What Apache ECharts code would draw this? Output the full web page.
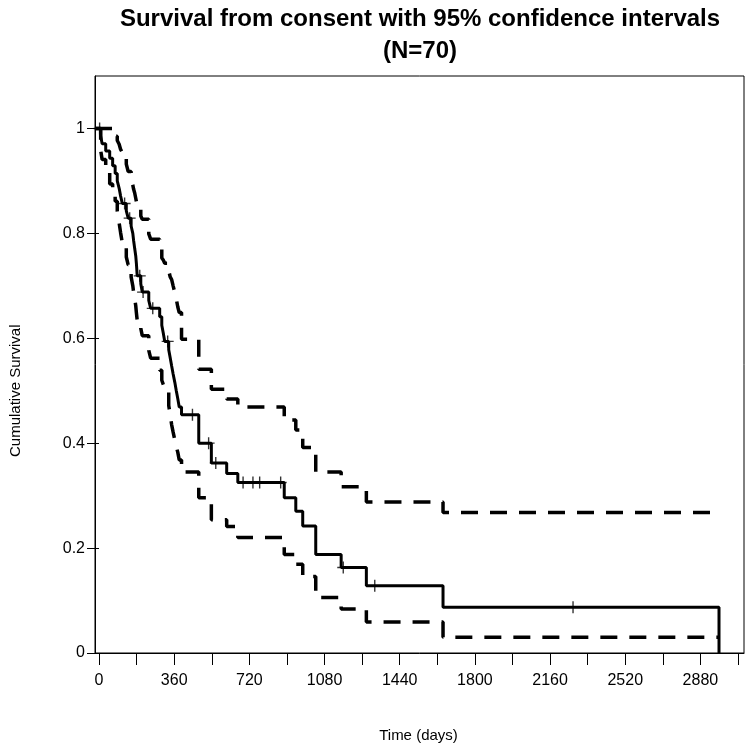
<!DOCTYPE html>
<html>
<head>
<meta charset="utf-8">
<title>Survival from consent</title>
<script src="https://cdn.jsdelivr.net/npm/echarts@6/dist/echarts.min.js"></script>
<style>
    html, body { margin: 0; padding: 0; background: #fff; }
    #chart { width: 749px; height: 753px; }
</style>
</head>
<body>
<div id="chart"></div>
<script>
// days at which the Kaplan-Meier estimate steps down (first entry is the start)
let stepDays = [0, 27, 34, 51, 70, 84, 96, 106, 115, 122, 130, 149, 158, 172, 180, 184, 189, 194, 197, 201,
    218, 225, 256, 265, 308, 318, 325, 332, 351, 358, 365, 372, 380, 387, 394, 401, 412, 494, 554, 627,
    680, 901, 956, 989, 1051, 1172, 1292, 1657, 2971];
let survival = [1, 0.986, 0.971, 0.957, 0.943, 0.929, 0.914, 0.900, 0.886, 0.871, 0.857, 0.843, 0.829, 0.814, 0.800,
    0.786, 0.771, 0.757, 0.743, 0.719, 0.704, 0.688, 0.672, 0.657, 0.641, 0.625, 0.610, 0.594, 0.578, 0.563,
    0.547, 0.532, 0.516, 0.500, 0.485, 0.469, 0.454, 0.400, 0.362, 0.342, 0.325, 0.296, 0.270, 0.242, 0.188,
    0.163, 0.128, 0.087, 0];
let upperCI = [1, 1, 1, 1, 1, 0.990, 0.985, 0.977, 0.970, 0.960, 0.954, 0.932, 0.918, 0.903, 0.892,
    0.884, 0.877, 0.867, 0.861, 0.848, 0.833, 0.827, 0.799, 0.789, 0.776, 0.753, 0.749, 0.743, 0.729, 0.717,
    0.712, 0.700, 0.687, 0.675, 0.660, 0.649, 0.598, 0.541, 0.503, 0.484, 0.469, 0.444, 0.425, 0.392, 0.345,
    0.317, 0.288, 0.268, 0.268];
let lowerCI = [1, 0.958, 0.941, 0.918, 0.894, 0.877, 0.861, 0.842, 0.820, 0.801, 0.782, 0.755, 0.740, 0.717, 0.700,
    0.687, 0.676, 0.662, 0.649, 0.634, 0.619, 0.605, 0.577, 0.562, 0.539, 0.520, 0.512, 0.505, 0.472, 0.454,
    0.435, 0.421, 0.406, 0.393, 0.383, 0.368, 0.345, 0.296, 0.254, 0.241, 0.220, 0.188, 0.169, 0.146, 0.106,
    0.084, 0.059, 0.030, 0.030];
// censored observations (days)
let censorDays = [22, 141, 165, 213, 229, 275, 346, 464, 541, 575, 705, 752, 784, 884, 1182, 1332, 2276];

let xTickLabels = [0, 360, 720, 1080, 1440, 1800, 2160, 2520, 2880];
let yTickLabels = ['0', '0.2', '0.4', '0.6', '0.8', '1'];

let fontFamily = 'Liberation Sans, Arial, sans-serif';

function pairs(days, values) {
    return days.map(function (d, i) {
        return [d, values[i]];
    });
}

// survival value in effect on a given day
function survivalAt(day) {
    let v = survival[0];
    for (let i = 0; i < stepDays.length; i++) {
        if (stepDays[i] <= day) {
            v = survival[i];
        }
    }
    return v;
}

let chart = echarts.init(document.getElementById('chart'));

let dashed = {color: '#000', width: 3.5, type: [17, 12]};

let option = {
    backgroundColor: '#fff',
    animation: false,
    title: {
        text: 'Survival from consent with 95% confidence intervals\n(N=70)',
        left: 415,
        top: -2,
        textAlign: 'center',
        textStyle: {
            fontFamily: fontFamily,
            fontSize: 24,
            fontWeight: 'bold',
            lineHeight: 32,
            color: '#000'
        }
    },
    grid: [
        {left: 95, right: 5, top: 76, bottom: 100, show: true, borderColor: '#000', borderWidth: 1},
        {left: 95, width: 643, top: 128.5, bottom: 100}
    ],
    xAxis: [
        {
            gridIndex: 0, type: 'value', min: 0, max: 3090,
            axisLine: {show: true, lineStyle: {color: '#000', width: 1}},
            axisTick: {show: false}, axisLabel: {show: false}, splitLine: {show: false}
        },
        {
            gridIndex: 1, type: 'value', min: 0, max: 3060, interval: 180,
            axisLine: {show: false},
            axisTick: {show: true, length: 12, lineStyle: {color: '#000', width: 1}},
            axisLabel: {
                margin: 20,
                color: '#000',
                fontFamily: fontFamily,
                fontSize: 16,
                formatter: function (v) {
                    return xTickLabels.indexOf(v) >= 0 ? String(v) : '';
                }
            },
            splitLine: {show: false},
            name: 'Time (days)',
            nameLocation: 'middle',
            nameGap: 75,
            nameTextStyle: {color: '#000', fontFamily: fontFamily, fontSize: 15}
        }
    ],
    yAxis: [
        {
            gridIndex: 0, type: 'value', min: 0, max: 1.1,
            axisLine: {show: true, lineStyle: {color: '#000', width: 1}},
            axisTick: {show: false}, axisLabel: {show: false}, splitLine: {show: false}
        },
        {
            gridIndex: 1, type: 'value', min: 0, max: 1, interval: 0.2,
            axisLine: {show: false},
            axisTick: {show: true, length: 12, lineStyle: {color: '#000', width: 1}},
            axisLabel: {
                margin: 14,
                color: '#000',
                fontFamily: fontFamily,
                fontSize: 16,
                formatter: function (v) {
                    return yTickLabels[Math.round(v * 5)];
                }
            },
            splitLine: {show: false},
            name: 'Cumulative Survival',
            nameLocation: 'middle',
            nameGap: 76,
            nameTextStyle: {color: '#000', fontFamily: fontFamily, fontSize: 15}
        }
    ],
    series: [
        {
            name: 'Upper 95% CI', type: 'line', step: 'end', xAxisIndex: 0, yAxisIndex: 0,
            showSymbol: false, lineStyle: dashed,
            data: pairs(stepDays, upperCI)
        },
        {
            name: 'Lower 95% CI', type: 'line', step: 'end', xAxisIndex: 0, yAxisIndex: 0,
            showSymbol: false, lineStyle: dashed,
            data: pairs(stepDays, lowerCI)
        },
        {
            name: 'Survival', type: 'line', step: 'end', xAxisIndex: 0, yAxisIndex: 0,
            showSymbol: false, lineStyle: {color: '#000', width: 3},
            data: pairs(stepDays, survival)
        },
        {
            name: 'Censored', type: 'scatter', xAxisIndex: 0, yAxisIndex: 0, z: 5,
            symbol: 'path://M5,0h1.3v11.3h-1.3zM0,5h11.3v1.3h-11.3z',
            symbolSize: 12,
            itemStyle: {color: '#000'},
            data: censorDays.map(function (d) {
                return [d, survivalAt(d)];
            })
        }
    ]
};

chart.setOption(option);
</script>
</body>
</html>
